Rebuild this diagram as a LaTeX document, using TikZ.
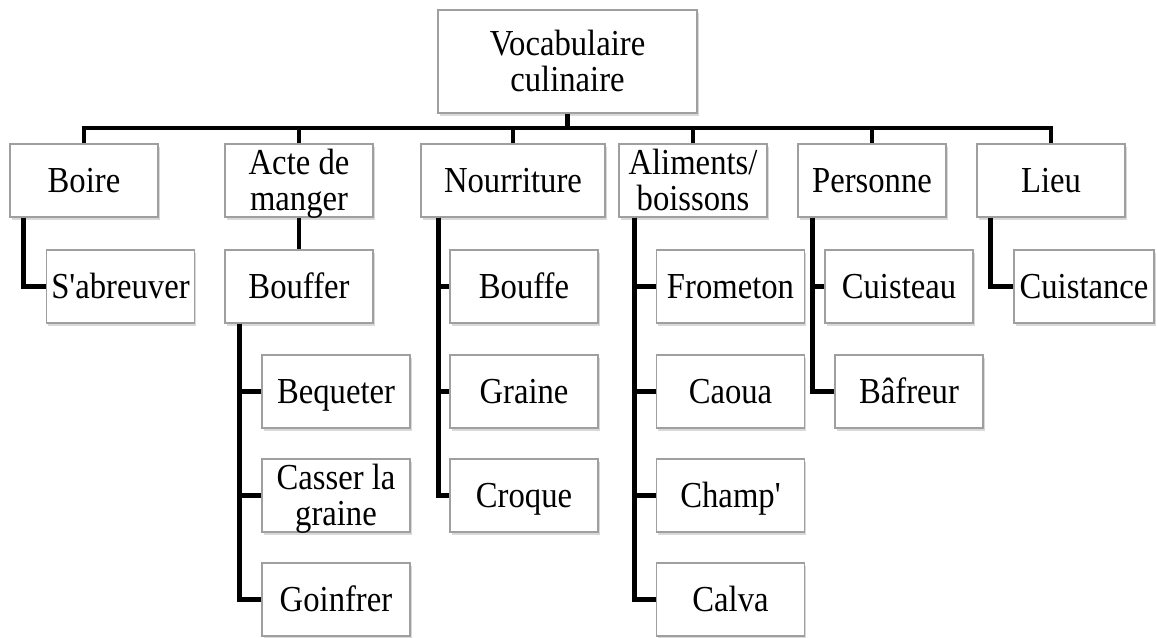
\documentclass[tikz,border=0pt]{standalone}
\usepackage{fontspec}
\usepackage{graphicx}
\setmainfont{Liberation Serif}[Ligatures=TeXOff]
\usetikzlibrary{shadows}
\newcommand{\lbl}[1]{\raisebox{-0.09cm}[\height][\depth]{\scalebox{1}[1.12]{\begin{tabular}{@{}c@{}}#1\end{tabular}}}}
\tikzset{
  term/.style={draw=gray!75, fill=white, line width=0.8pt, inner sep=0pt,
    minimum width=2.96cm, minimum height=1.46cm, align=center,
    font=\fontsize{18.6}{18.2}\selectfont,
    drop shadow={shadow xshift=1pt, shadow yshift=-1.5pt, opacity=0.3, fill=gray}},
  branch/.style={line width=2.5pt, black}
}
\begin{document}
\begin{tikzpicture}[x=0.02cm, y=-0.02cm]
\useasboundingbox (0,0) rectangle (1157,637);
\node[term, minimum width=5.18cm, minimum height=2.06cm] (vocab) at (567.5,61.5) {\lbl{Vocabulaire\\culinaire}};
\node[term] (boire) at (84,180.5) {\lbl{Boire}};
\node[term] (acte) at (299,180.5) {\lbl{Acte de\\manger}};
\node[term, minimum width=3.68cm] (nourr) at (513,180.5) {\lbl{Nourriture}};
\node[term] (alim) at (693,180.5) {\lbl{Aliments/\\boissons}};
\node[term] (pers) at (872,180.5) {\lbl{Personne}};
\node[term] (lieu) at (1051,180.5) {\lbl{Lieu}};
\node[term] (sabreuver) at (120.5,286.5) {\lbl{S'abreuver}};
\node[term] (bouffer) at (299,286.5) {\lbl{Bouffer}};
\node[term] (bequeter) at (336,391.5) {\lbl{Bequeter}};
\node[term] (casser) at (336,495.5) {\lbl{Casser la\\graine}};
\node[term] (goinfrer) at (336,599.5) {\lbl{Goinfrer}};
\node[term] (bouffe) at (524,286.5) {\lbl{Bouffe}};
\node[term] (graine) at (524,391.5) {\lbl{Graine}};
\node[term] (croque) at (524,495.5) {\lbl{Croque}};
\node[term] (frometon) at (730.5,286.5) {\lbl{Frometon}};
\node[term] (caoua) at (730.5,391.5) {\lbl{Caoua}};
\node[term] (champ) at (730.5,495.5) {\lbl{Champ'}};
\node[term] (calva) at (730.5,599.5) {\lbl{Calva}};
\node[term] (cuisteau) at (899,286.5) {\lbl{Cuisteau}};
\node[term] (bafreur) at (909,391.5) {\lbl{Bâfreur}};
\node[term, minimum width=2.8cm] (cuistance) at (1084,286.5) {\lbl{Cuistance}};
\coordinate (bus) at (567.5,128);
\draw[branch] (vocab) -- (bus);
\foreach \top in {boire,acte,nourr,alim,pers,lieu}
  \draw[branch] (bus) -| (\top);
\draw[branch] ([xshift=0.28cm]boire.south west) |- (sabreuver);
\draw[branch] (acte) -- (bouffer);
\foreach \leaf in {bequeter,casser,goinfrer}
  \draw[branch] ([xshift=0.3cm]bouffer.south west) |- (\leaf);
\foreach \leaf in {bouffe,graine,croque}
  \draw[branch] ([xshift=0.36cm]nourr.south west) |- (\leaf);
\foreach \leaf in {frometon,caoua,champ,calva}
  \draw[branch] ([xshift=0.32cm]alim.south west) |- (\leaf);
\foreach \leaf in {cuisteau,bafreur}
  \draw[branch] ([xshift=0.3cm]pers.south west) |- (\leaf);
\draw[branch] ([xshift=0.28cm]lieu.south west) |- (cuistance);
\end{tikzpicture}
\end{document}
